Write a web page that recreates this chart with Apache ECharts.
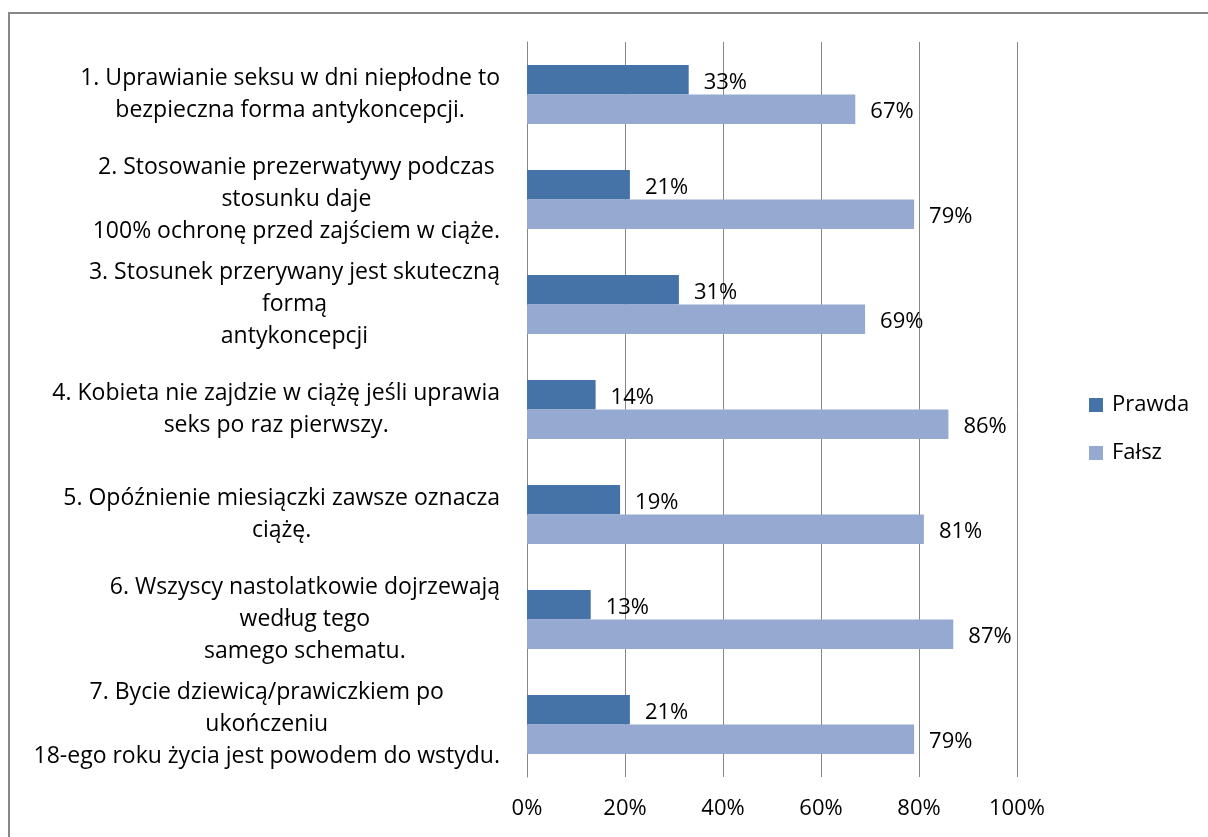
<!DOCTYPE html>
<html>
<head>
<meta charset="utf-8">
<script src="https://cdn.jsdelivr.net/npm/echarts@6/dist/echarts.min.js"></script>
<style>
  html, body { margin: 0; padding: 0; background: #fff; }
  #chart { width: 1208px; height: 837px; }
</style>
</head>
<body>
<div id="chart"></div>
<script>
const categories = [
  '1. Uprawianie seksu w dni niepłodne to\nbezpieczna forma antykoncepcji.',
  '2. Stosowanie prezerwatywy podczas\nstosunku daje\n100% ochronę przed zajściem w ciąże.',
  '3. Stosunek przerywany jest skuteczną\nformą\nantykoncepcji',
  '4. Kobieta nie zajdzie w ciążę jeśli uprawia\nseks po raz pierwszy.',
  '5. Opóźnienie miesiączki zawsze oznacza\nciążę.',
  '6. Wszyscy nastolatkowie dojrzewają\nwedług tego\nsamego schematu.',
  '7. Bycie dziewicą/prawiczkiem po\nukończeniu\n18-ego roku życia jest powodem do wstydu.'
]
const prawda = [33, 21, 31, 14, 19, 13, 21]
const falsz = [67, 79, 69, 86, 81, 87, 79]

const font = '"Open Sans", Lato, sans-serif'

const chart = echarts.init(document.getElementById('chart'))

const valueLabel = {
  show: true,
  position: 'right',
  distance: 15,
  offset: [0, 3],
  formatter: '{c}%',
  color: '#000',
  fontSize: 22,
  fontFamily: font
}

const option = {
  animation: false,
  color: ['#4572A7', '#95A9D1'],
  graphic: [{
    type: 'rect',
    shape: { x: 9, y: 13, width: 1400, height: 1000 },
    style: { fill: 'none', stroke: '#878787', lineWidth: 2 }
  }],
  grid: {
    left: 527,
    right: 191,
    top: 42,
    bottom: 60
  },
  legend: {
    orient: 'vertical',
    left: 1089,
    top: 394,
    padding: 0,
    icon: 'rect',
    itemWidth: 14,
    itemHeight: 14,
    itemGap: 26,
    textStyle: {
      fontSize: 22,
      lineHeight: 22,
      color: '#000',
      fontFamily: font,
      padding: [0, 0, 0, 4]
    },
    data: ['Prawda', 'Fałsz']
  },
  xAxis: {
    type: 'value',
    min: 0,
    max: 100,
    interval: 20,
    axisLine: { show: false },
    axisTick: { show: false },
    splitLine: { lineStyle: { color: '#878787', width: 1 } },
    axisLabel: {
      formatter: '{value}%',
      fontSize: 22,
      color: '#000',
      fontFamily: font,
      margin: 21
    }
  },
  yAxis: {
    type: 'category',
    inverse: true,
    data: categories,
    axisTick: { show: false },
    axisLine: { lineStyle: { color: '#878787', width: 1 } },
    axisLabel: {
      margin: 27,
      formatter: function (value) {
        return value.split('\n').map(l => '{c|' + l + '}').join('\n')
      },
      rich: {
        c: {
          align: 'center',
          fontSize: 23,
          lineHeight: 32,
          color: '#000',
          fontFamily: font
        }
      }
    }
  },
  series: [
    {
      name: 'Prawda',
      type: 'bar',
      data: prawda,
      barGap: 0,
      barCategoryGap: '44%',
      label: valueLabel
    },
    {
      name: 'Fałsz',
      type: 'bar',
      data: falsz,
      barGap: 0,
      barCategoryGap: '44%',
      label: valueLabel
    }
  ]
}

chart.setOption(option)
</script>
</body>
</html>
